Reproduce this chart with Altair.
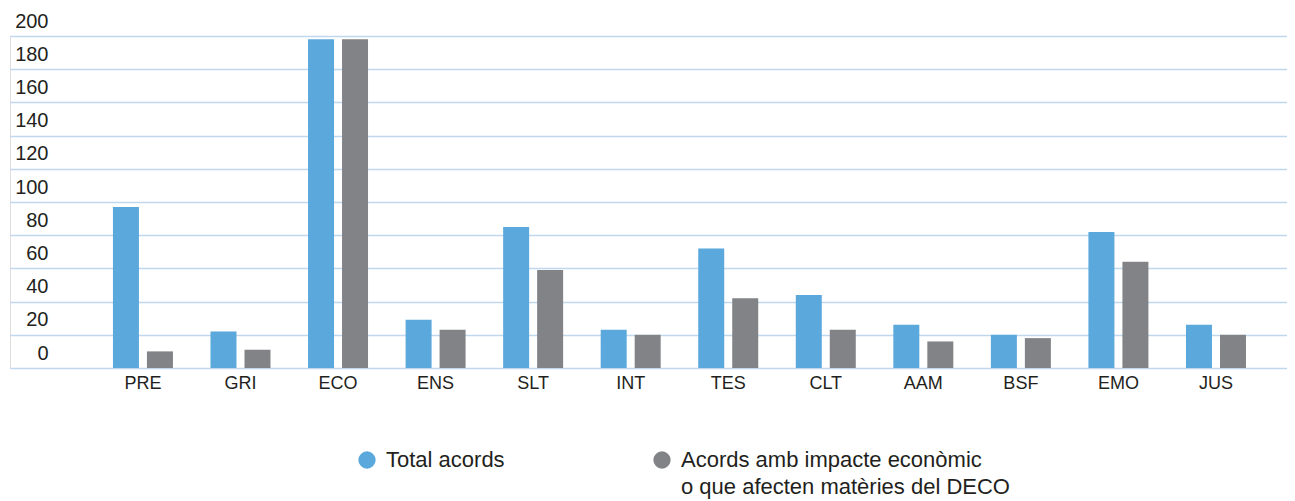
import altair as alt
import pandas as pd

categories = ["PRE", "GRI", "ECO", "ENS", "SLT", "INT", "TES", "CLT", "AAM", "BSF", "EMO", "JUS"]
total_acords = [97, 22, 198, 29, 85, 23, 72, 44, 26, 20, 82, 26]
acords_deco = [10, 11, 198, 23, 59, 20, 42, 23, 16, 18, 64, 20]
series_names = ["Total acords", "Acords amb impacte econòmic|o que afecten matèries del DECO"]
series_colors = ["#5BA8DC", "#828387"]
y_ticks = list(range(0, 201, 20))

rows = []
for i, c in enumerate(categories):
    rows.append({"cat": c, "serie": series_names[0], "valor": total_acords[i]})
    rows.append({"cat": c, "serie": series_names[1], "valor": acords_deco[i]})
df = pd.DataFrame(rows)

FONT = "Liberation Sans"
TXT = "#231F20"

chart = alt.Chart(df).mark_bar(opacity=1).encode(
    x=alt.X(
        "cat:N", sort=categories,
        scale=alt.Scale(paddingInner=0.385, paddingOuter=0.738, align=0.715),
        axis=alt.Axis(title=None, labelAngle=0, domain=False, ticks=False, tickSize=0,
                      labelPadding=6, labelFontSize=18, labelColor=TXT, labelFont=FONT,
                      grid=False),
    ),
    xOffset=alt.XOffset("serie:N", sort=series_names,
                        scale=alt.Scale(paddingInner=0.2353, paddingOuter=0)),
    y=alt.Y(
        "valor:Q",
        scale=alt.Scale(domain=[0, 200], nice=False),
        axis=alt.Axis(title=None, values=y_ticks, domain=False, ticks=False, tickSize=0,
                      labelPadding=-38, labelAlign="right", labelBaseline="alphabetic",
                      labelOffset=-9, labelFontSize=20, labelColor=TXT, labelFont=FONT,
                      labelOverlap=False, gridColor="#BFD8EE", gridWidth=1.5),
    ),
    color=alt.Color(
        "serie:N", sort=series_names,
        scale=alt.Scale(domain=series_names, range=series_colors),
        legend=alt.Legend(
            title=None, orient="none", legendX=346, legendY=413, direction="horizontal",
            symbolType="circle", symbolSize=300, symbolStrokeWidth=0, symbolOpacity=1,
            labelFontSize=22, labelFont=FONT, labelColor=TXT, labelOffset=8,
            labelLimit=500, columnPadding=146, labelBaseline="middle", padding=0,
            labelExpr="indexof(datum.label, '|') >= 0 ? split(datum.label, '|') : [datum.label, '']",
        ),
    ),
).properties(
    width=1277, height=332,
    padding={"left": 2, "top": 28, "right": 0, "bottom": 133},
    autosize=alt.AutoSizeParams(type="none"),
).configure_view(stroke=None).configure(style={"guide-label": {"lineHeight": 27}})

chart.save("out.html", embed_options={"renderer": "svg", "actions": False})
